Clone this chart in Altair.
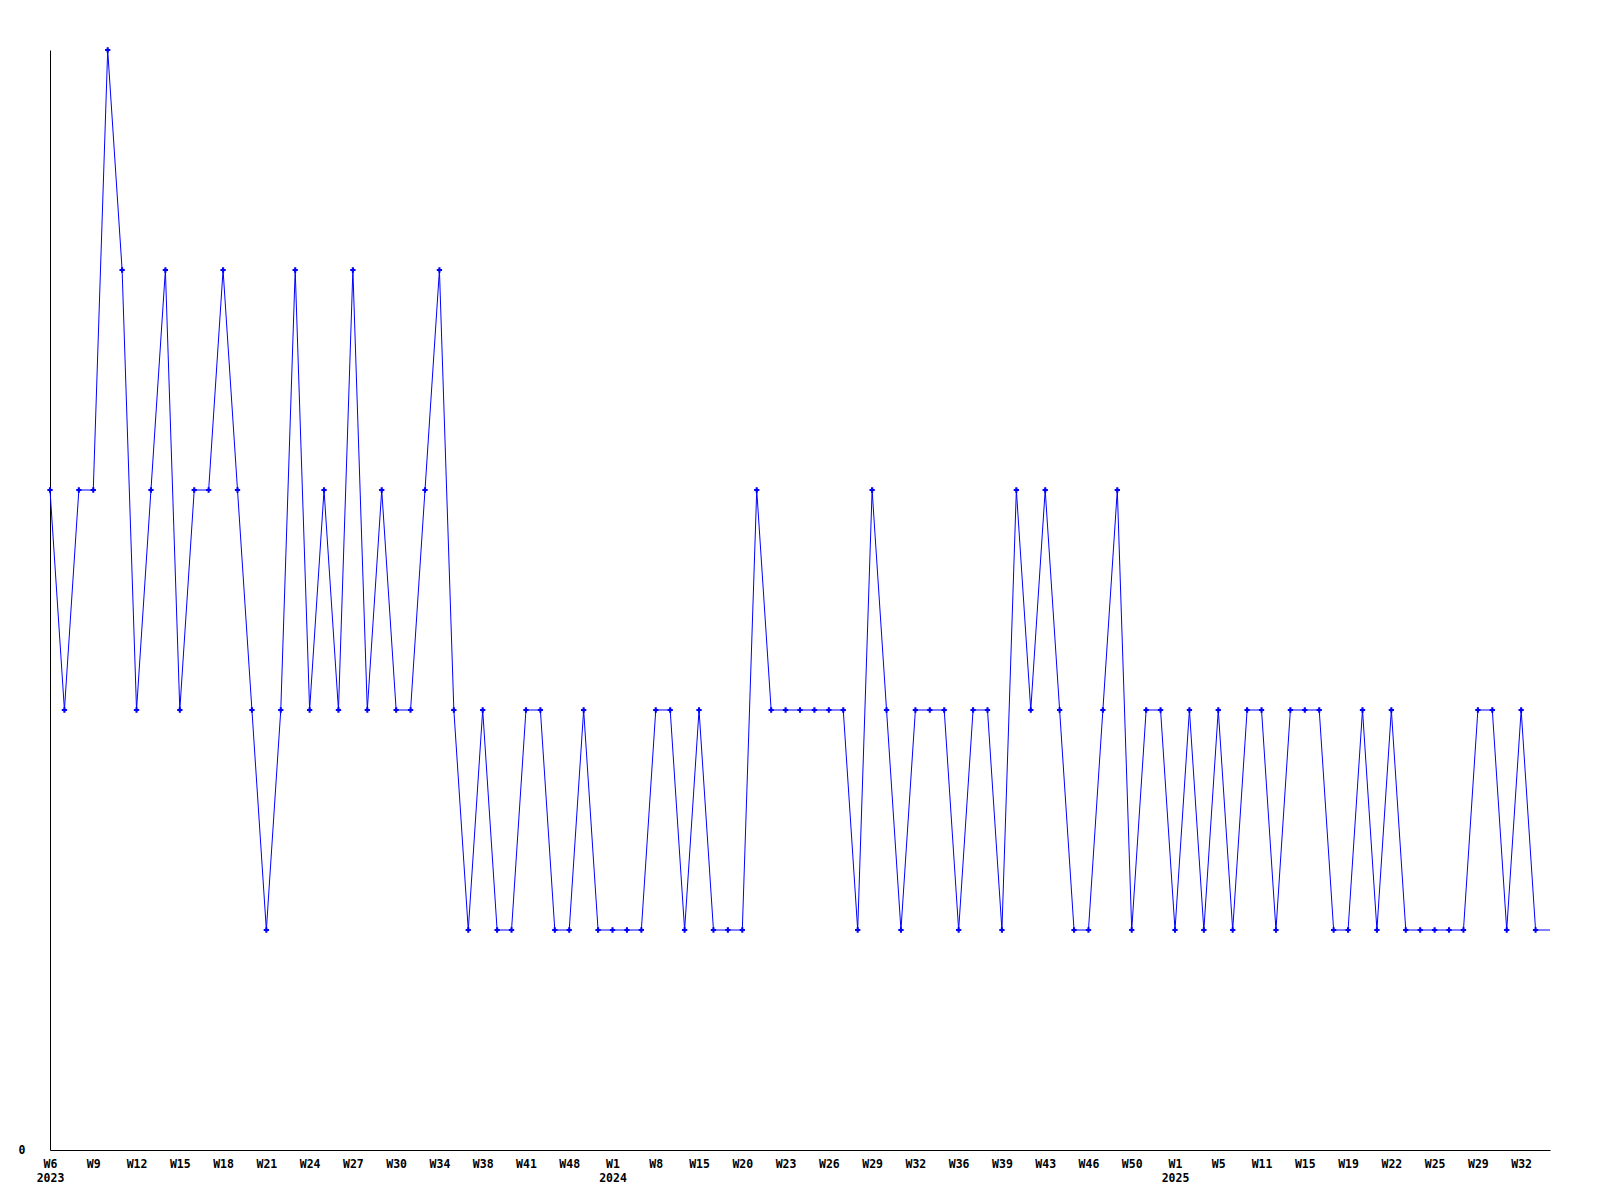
import json
import altair as alt
import pandas as pd

# ISO weeks of the observations (one per point, in order)
years = [2023] * 39 + [2024] * 39 + [2025] * 27
weeks = [
    6, 7, 8, 9, 10, 11, 12, 13, 14, 15, 16, 17, 18, 19, 20, 21, 22, 23, 24, 25,
    26, 27, 28, 29, 30, 31, 33, 34, 35, 37, 38, 39, 40, 41, 43, 45, 48, 50, 51,
    1, 3, 5, 8, 10, 12, 15, 17, 18, 20, 21, 22, 23, 24, 25, 26, 27, 28, 29, 30,
    31, 32, 33, 35, 36, 37, 38, 39, 40, 42, 43, 44, 45, 46, 47, 49, 50, 51, 52,
    1, 2, 4, 5, 7, 9, 11, 12, 14, 15, 16, 18, 19, 20, 21, 22, 23, 24, 25, 26,
    28, 29, 30, 31, 32, 33, 34,
]
values = [
    3, 2, 3, 3, 5, 4, 2, 3, 4, 2, 3, 3, 4, 3, 2, 1, 2, 4, 2, 3,
    2, 4, 2, 3, 2, 2, 3, 4, 2, 1, 2, 1, 1, 2, 2, 1, 1, 2, 1, 1,
    1, 1, 2, 2, 1, 2, 1, 1, 1, 3, 2, 2, 2, 2, 2, 2, 1, 3, 2, 1,
    2, 2, 2, 1, 2, 2, 1, 3, 2, 3, 2, 1, 1, 2, 3, 1, 2, 2, 1, 2,
    1, 2, 1, 2, 2, 1, 2, 2, 2, 1, 1, 2, 1, 2, 1, 1, 1, 1, 1, 2,
    2, 1, 2, 1, 1,
]
label_every = 3

df = pd.DataFrame({
    "idx": list(range(len(values))),
    "year": years,
    "week": weeks,
    "value": values,
})
last_idx = len(values) - 1

# tick labels: "W<n>", with the year on a second line at the first point of each year
tick_labels = []
for i, (y, w) in enumerate(zip(years, weeks)):
    if i == 0 or years[i - 1] != y:
        tick_labels.append([f"W{w}", str(y)])
    else:
        tick_labels.append(f"W{w}")
label_expr = json.dumps(tick_labels) + "[datum.value]"
tick_values = list(range(0, len(values), label_every))

FONT = "DejaVu Sans Mono"

x = alt.X(
    "idx:Q",
    scale=alt.Scale(domain=[0, last_idx], nice=False, zero=False),
    axis=alt.Axis(
        values=tick_values,
        labelExpr=label_expr,
        title=None,
        grid=False,
        ticks=False,
        tickSize=0,
        labelPadding=8,
        labelLineHeight=14,
        labelOverlap=False,
        labelFlush=False,
        labelBound=False,
        labelFont=FONT,
        labelFontWeight="bold",
        labelFontSize=11.5,
        labelColor="black",
        domainColor="black",
        domainWidth=1,
    ),
)
y = alt.Y(
    "value:Q",
    scale=alt.Scale(domain=[0, 5], nice=False),
    axis=alt.Axis(
        values=[0],
        title=None,
        grid=False,
        ticks=False,
        tickSize=0,
        labelPadding=25,
        labelFont=FONT,
        labelFontWeight="bold",
        labelFontSize=11.5,
        labelColor="black",
        domainColor="black",
        domainWidth=1,
    ),
)

base = alt.Chart(df).encode(x=x, y=y)
line = base.mark_line(color="#0000ff", strokeWidth=1)
pts = (
    base.mark_point(shape="cross", filled=True, color="#0000ff", size=28, opacity=1)
    .transform_filter(alt.datum.idx < last_idx)
)

chart = (
    alt.layer(line, pts)
    .properties(
        width=1500,
        height=1100,
        autosize=alt.AutoSizeParams(type="none"),
        padding={"left": 42, "top": 42, "right": 42, "bottom": 42},
        background="white",
    )
    .configure_view(stroke=None)
)

chart.save("out.html", embed_options={"renderer": "svg", "actions": False})
